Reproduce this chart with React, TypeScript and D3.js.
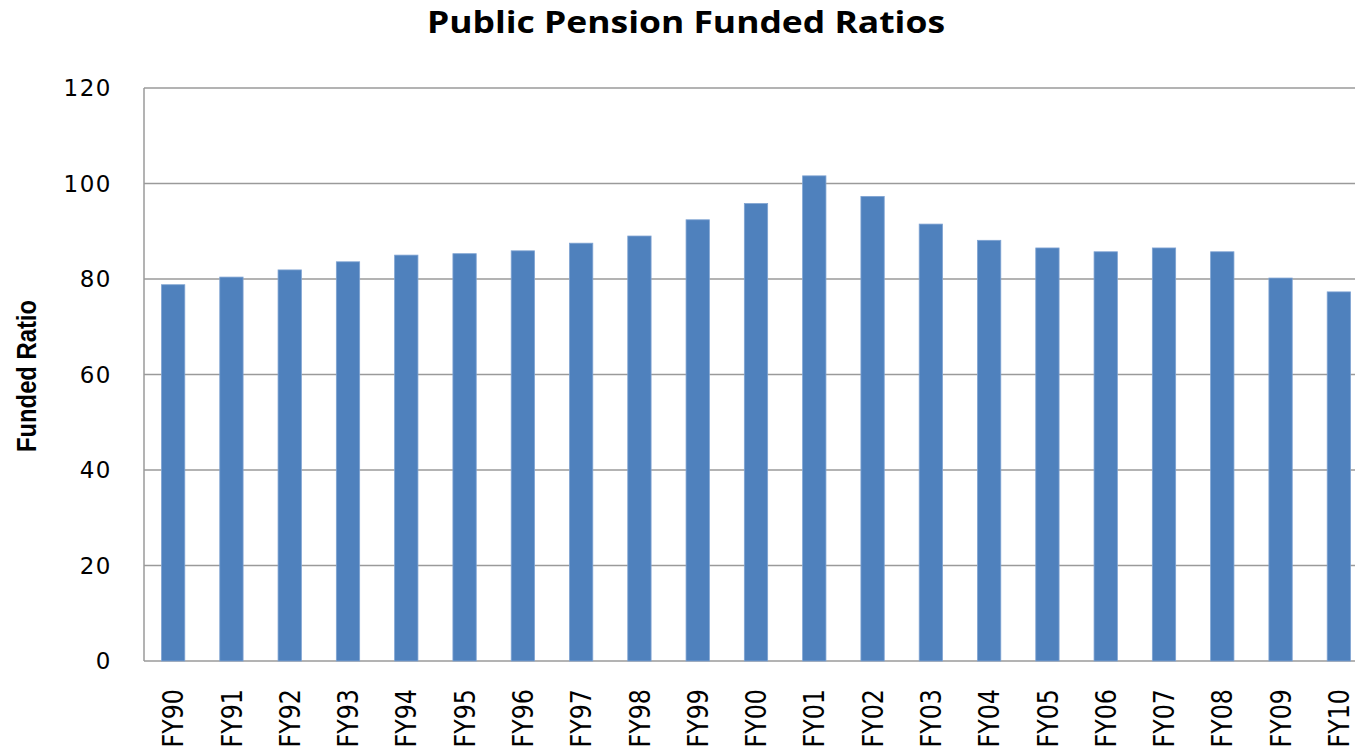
import React, { useEffect, useRef } from 'react'
import * as d3 from 'd3'

// fiscal years on the x axis
const years = ['FY90', 'FY91', 'FY92', 'FY93', 'FY94', 'FY95', 'FY96', 'FY97', 'FY98', 'FY99', 'FY00',
  'FY01', 'FY02', 'FY03', 'FY04', 'FY05', 'FY06', 'FY07', 'FY08', 'FY09', 'FY10']
// funded ratio (%)
const ratios = [78.8, 80.4, 81.9, 83.6, 85.0, 85.3, 85.9, 87.5, 89.0, 92.4, 95.8,
  101.6, 97.3, 91.5, 88.1, 86.5, 85.7, 86.5, 85.7, 80.2, 77.3]
const yTicks = [0, 20, 40, 60, 80, 100, 120]

const W = 1355
const H = 750

function App() {
  const ref = useRef<SVGSVGElement>(null)

  useEffect(() => {
    const svg = d3.select(ref.current)
    svg.selectAll('*').remove()

    //plot area, right side runs off the picture like the original
    const margin = { top: 88, left: 144 }
    const plotW = 1224
    const plotH = 573

    const x = d3.scaleBand<string>().domain(years).range([0, plotW]).padding(0)
    const y = d3.scaleLinear().domain([0, 120]).range([plotH, 0])
    const barW = x.bandwidth() * 0.4

    const g = svg.append('g').attr('transform', `translate(${margin.left},${margin.top})`)

    // horizontal grid lines
    g.selectAll('line.grid')
      .data(yTicks)
      .enter().append('line')
      .attr('class', 'grid')
      .attr('x1', 0).attr('x2', plotW)
      .attr('y1', d => y(d)).attr('y2', d => y(d))
      .attr('stroke', '#9a9a9a')
      .attr('stroke-width', 1.5)

    // left axis line
    g.append('line')
      .attr('x1', 0).attr('x2', 0)
      .attr('y1', 0).attr('y2', plotH)
      .attr('stroke', '#9a9a9a')
      .attr('stroke-width', 1.5)

    // bars
    g.selectAll('rect.bar')
      .data(ratios)
      .enter().append('rect')
      .attr('class', 'bar')
      .attr('x', (d, i) => (x(years[i]) as number) + x.bandwidth() / 2 - barW / 2)
      .attr('y', d => y(d))
      .attr('width', barW)
      .attr('height', d => plotH - y(d))
      .attr('fill', '#4F81BD')
      .attr('stroke', '#7fa3d2')
      .attr('stroke-width', 0.8)

    // y tick labels
    g.selectAll('text.ytick')
      .data(yTicks)
      .enter().append('text')
      .attr('class', 'ytick')
      .attr('x', -32)
      .attr('y', d => y(d))
      .attr('dy', '0.35em')
      .attr('text-anchor', 'end')
      .style('font-family', 'DejaVu Sans')
      .style('font-size', '23px')
      .style('letter-spacing', '1.5px')
      .attr('fill', '#000')
      .text(d => d)

    // x labels, rotated and squeezed along their length
    g.selectAll('text.xtick')
      .data(years)
      .enter().append('text')
      .attr('class', 'xtick')
      .attr('transform', d => `translate(${(x(d) as number) + x.bandwidth() / 2},${plotH + 28}) rotate(-90) scale(0.85,1)`)
      .attr('dy', '0.36em')
      .attr('text-anchor', 'end')
      .style('font-family', 'DejaVu Sans')
      .style('font-size', '28px')
      .attr('fill', '#000')
      .text(d => d)

    // y axis title
    svg.append('text')
      .attr('transform', 'translate(36,376) rotate(-90) scale(0.85,1)')
      .attr('text-anchor', 'middle')
      .style('font-family', 'Liberation Sans')
      .style('font-weight', 'bold')
      .style('font-size', '28px')
      .text('Funded Ratio')

    // chart title
    svg.append('text')
      .attr('x', 686)
      .attr('y', 33)
      .attr('text-anchor', 'middle')
      .attr('textLength', 518)
      .attr('lengthAdjust', 'spacingAndGlyphs')
      .style('font-family', 'Open Sans')
      .style('font-weight', 'bold')
      .style('font-size', '31px')
      .text('Public Pension Funded Ratios')
  }, [])

  return (
    <svg ref={ref} width={W} height={H}
      style={{ position: 'absolute', left: 0, top: 0, background: '#fff' }} />
  )
}

export default App
